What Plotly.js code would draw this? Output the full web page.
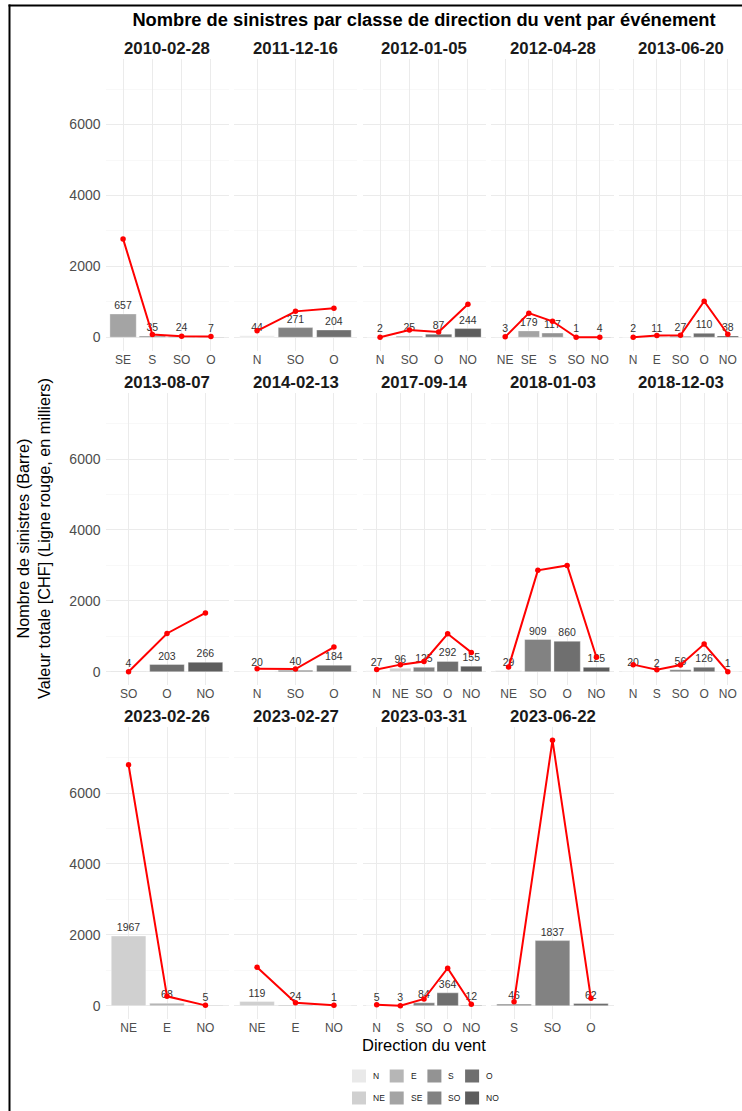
<!DOCTYPE html>
<html><head><meta charset="utf-8">
<script src="https://cdn.plot.ly/plotly-3.0.1.min.js"></script>
<style>html,body{margin:0;padding:0;background:#fff;overflow:hidden}#chart{width:742px;height:1111px}</style>
</head><body><div id="chart"></div><script>
// ---- data ----
const eventDates = ['2010-02-28','2011-12-16','2012-01-05','2012-04-28','2013-06-20',
  '2013-08-07','2014-02-13','2017-09-14','2018-01-03','2018-12-03',
  '2023-02-26','2023-02-27','2023-03-31','2023-06-22'];
const eventDirections = [
  ['SE','S','SO','O'], ['N','SO','O'], ['N','SO','O','NO'], ['NE','SE','S','SO','NO'], ['N','E','SO','O','NO'],
  ['SO','O','NO'], ['N','SO','O'], ['N','NE','SO','O','NO'], ['NE','SO','O','NO'], ['N','S','SO','O','NO'],
  ['NE','E','NO'], ['NE','E','NO'], ['N','S','SO','O','NO'], ['S','SO','O']
];
const eventCounts = [
  [657,35,24,7], [44,271,204], [2,25,87,244], [3,179,117,1,4], [2,11,27,110,38],
  [4,203,266], [20,40,184], [27,96,125,292,155], [29,909,860,125], [20,2,56,126,1],
  [1967,68,5], [119,24,1], [5,3,84,364,12], [46,1837,62]
];
const eventValues = [
  [2775,75,25,20], [180,730,820], [0,205,150,930], [10,680,450,0,0], [0,50,55,1015,85],
  [0,1080,1660], [85,75,695], [65,200,290,1070,545], [130,2860,3000,410], [200,55,190,780,0],
  [6800,265,10], [1087,85,10], [30,0,190,1060,40], [115,7490,210]
];
const directionOrder = ['N','NE','E','SE','S','SO','O','NO'];
const directionColors = ['#e9e9e9','#d0d0d0','#b6b6b6','#a4a4a4','#939393','#828282','#6f6f6f','#5d5d5d'];
const yTickValues = [0,2000,4000,6000];
const yMinorValues = [1000,3000,5000,7000];

// ---- layout geometry ----
const W = 742, H = 1111;
const colStarts = [105.5, 234, 362.5, 491, 619];
const panelW = 123;
const rowTops = [58.5, 393, 727];
const panelH = 292;
const FONT = 'Liberation Sans, Arial, sans-serif';

const colorOf = d => directionColors[directionOrder.indexOf(d)];
let maxV = 0;
eventCounts.forEach(a => a.forEach(v => maxV = Math.max(maxV, v)));
eventValues.forEach(a => a.forEach(v => maxV = Math.max(maxV, v)));
const yRange = [-0.05 * maxV, 1.05 * maxV];

const data = [];
const layout = {
  width: W, height: H, autosize: false,
  margin: {l:0, r:0, t:0, b:0},
  paper_bgcolor: '#fff', plot_bgcolor: '#fff',
  font: {family: FONT, color: '#000'},
  showlegend: false, bargap: 0.1,
  title: {text: '<b>Nombre de sinistres par classe de direction du vent par événement</b>',
    x: 424 / W, xanchor: 'center', y: 1 - 20 / H, yanchor: 'middle',
    font: {family: FONT, size: 18.3, color: '#000'}},
  annotations: [], shapes: []
};

eventDates.forEach((date, i) => {
  const n = i + 1;
  const xa = 'x' + (n === 1 ? '' : n), ya = 'y' + (n === 1 ? '' : n);
  const col = i % 5, row = Math.floor(i / 5);
  const dirs = eventDirections[i];
  data.push({
    type: 'bar', x: dirs, y: eventCounts[i], xaxis: xa, yaxis: ya,
    marker: {color: dirs.map(colorOf), line: {color: 'rgba(255,255,255,0.35)', width: 1}},
    text: eventCounts[i].map(String), textposition: 'outside', constraintext: 'none',
    textfont: {family: FONT, size: 10.5, color: '#333'}, cliponaxis: false, hoverinfo: 'skip'
  });
  data.push({
    type: 'scatter', mode: 'lines+markers', x: dirs, y: eventValues[i], xaxis: xa, yaxis: ya,
    line: {color: '#ff0000', width: 2}, marker: {color: '#ff0000', size: 5.5},
    cliponaxis: false, hoverinfo: 'skip'
  });
  const x0 = colStarts[col] / W, x1 = (colStarts[col] + panelW) / W;
  const top = rowTops[row];
  layout['xaxis' + (n === 1 ? '' : n)] = {
    domain: [x0, Math.min(1, x1)], anchor: ya, type: 'category',
    categoryorder: 'array', categoryarray: dirs, range: [-0.6, dirs.length - 0.4],
    showgrid: true, gridcolor: '#ebebeb', gridwidth: 1, zeroline: false, showline: false,
    ticks: '', tickfont: {family: FONT, size: 12, color: '#4d4d4d'}, fixedrange: true
  };
  layout['yaxis' + (n === 1 ? '' : n)] = {
    domain: [1 - (top + panelH) / H, 1 - top / H], anchor: xa, range: yRange,
    tickmode: 'array', tickvals: yTickValues, ticktext: yTickValues.map(String),
    showticklabels: col === 0, ticks: '', ticklabelstandoff: 4,
    tickfont: {family: FONT, size: 14, color: '#4d4d4d'},
    showgrid: true, gridcolor: '#ebebeb', gridwidth: 1, zeroline: false, showline: false,
    minor: {tickmode: 'array', tickvals: yMinorValues, showgrid: true, gridcolor: '#f4f4f4', gridwidth: 0.6},
    fixedrange: true
  };
  layout.annotations.push({
    text: '<b>' + date + '</b>', xref: 'paper', yref: 'paper',
    x: (colStarts[col] + panelW / 2) / W, y: 1 - (top - 10.5) / H,
    xanchor: 'center', yanchor: 'middle', showarrow: false,
    font: {family: FONT, size: 16.8, color: '#1a1a1a'}
  });
});

// axis titles
layout.annotations.push({
  text: 'Nombre de sinistres (Barre)<br>Valeur totale [CHF] (Ligne rouge, en milliers)',
  xref: 'paper', yref: 'paper', x: 33 / W, y: 1 - 539 / H, textangle: -90,
  xanchor: 'center', yanchor: 'middle', showarrow: false,
  font: {family: FONT, size: 16.3, color: '#000'}
});
layout.annotations.push({
  text: 'Direction du vent', xref: 'paper', yref: 'paper', x: 424 / W, y: 1 - 1045 / H,
  xanchor: 'center', yanchor: 'middle', showarrow: false,
  font: {family: FONT, size: 16.5, color: '#000'}
});

// legend (2 rows x 4 columns, column-major)
const legX0 = 352, legDX = 37.7, legRowY = [1076, 1098], keyW = 14, keyH = 13;
directionOrder.forEach((d, k) => {
  const c = Math.floor(k / 2), r = k % 2;
  const kx = legX0 + c * legDX, ky = legRowY[r];
  layout.shapes.push({type: 'rect', xref: 'paper', yref: 'paper',
    x0: kx / W, x1: (kx + keyW) / W, y0: 1 - (ky + keyH / 2) / H, y1: 1 - (ky - keyH / 2) / H,
    fillcolor: directionColors[k], line: {width: 0}});
  layout.annotations.push({text: d, xref: 'paper', yref: 'paper',
    x: (kx + keyW + 5) / W, y: 1 - ky / H, xanchor: 'left', yanchor: 'middle', showarrow: false,
    font: {family: FONT, size: 8.5, color: '#1a1a1a'}});
});

// frame border (left and top)
layout.shapes.push({type: 'line', xref: 'paper', yref: 'paper', x0: 9.5 / W, x1: 9.5 / W, y0: 0, y1: 1 - 4.5 / H, line: {color: '#000', width: 2}});
layout.shapes.push({type: 'line', xref: 'paper', yref: 'paper', x0: 8.5 / W, x1: 1, y0: 1 - 5.5 / H, y1: 1 - 5.5 / H, line: {color: '#000', width: 2}});

Plotly.newPlot('chart', data, layout, {staticPlot: true, displayModeBar: false});
</script></body></html>
